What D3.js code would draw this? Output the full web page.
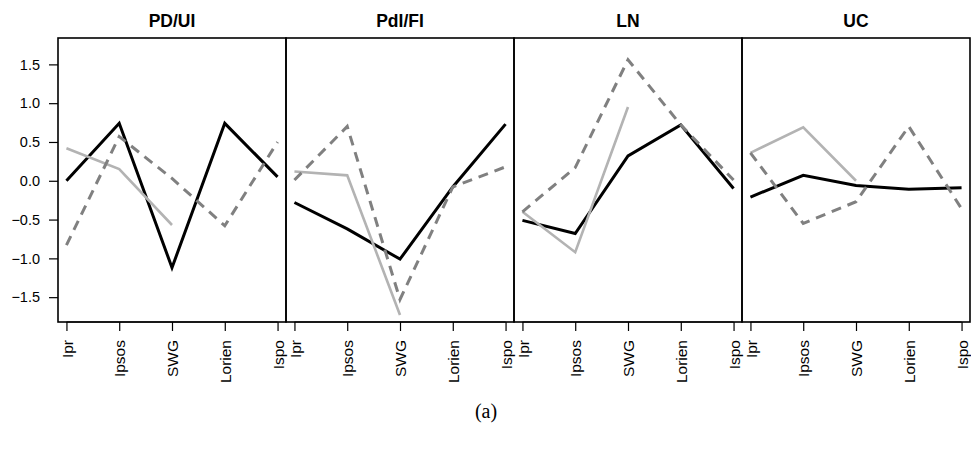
<!DOCTYPE html>
<html>
<head>
<meta charset="utf-8">
<script src="https://cdn.jsdelivr.net/npm/d3@7"></script>
<style>
  body { margin: 0; background: #fff; }
  svg { display: block; }
  text { font-family: "Liberation Sans", Arial, Helvetica, sans-serif; fill: #000; }
</style>
</head>
<body>
<svg id="chart" width="971" height="451"></svg>
<script>
const pollsters = ['Ipr', 'Ipsos', 'SWG', 'Lorien', 'Ispo'];
const parties = ['PD/UI', 'PdI/FI', 'LN', 'UC'];
const yTicks = [-1.5, -1.0, -0.5, 0.0, 0.5, 1.0, 1.5];

// solid black series, one row per party
const blackVals = [
  [0.00, 0.74, -1.12, 0.74, 0.05],
  [-0.28, -0.62, -1.01, -0.08, 0.73],
  [-0.51, -0.68, 0.32, 0.72, -0.10],
  [-0.21, 0.07, -0.06, -0.11, -0.09]
];
// light grey series, only the first three pollsters
const greyVals = [
  [0.42, 0.15, -0.57],
  [0.12, 0.07, -1.73],
  [-0.40, -0.92, 0.95],
  [0.36, 0.69, 0.00]
];
// dashed grey series
const dashVals = [
  [-0.83, 0.57, 0.03, -0.58, 0.50],
  [0.01, 0.70, -1.53, -0.08, 0.18],
  [-0.40, 0.17, 1.56, 0.72, 0.01],
  [0.36, -0.55, -0.27, 0.70, -0.36]
];

const svg = d3.select('#chart');
const plotTop = 38, plotBottom = 322, left0 = 58, panelW = 228;

const y = d3.scaleLinear().domain([-1.82, 1.84]).range([plotBottom, plotTop]);

// left axis (first panel only)
svg.append('g')
  .attr('transform', `translate(${left0},0)`)
  .call(d3.axisLeft(y).tickValues(yTicks).tickFormat(d3.format('.1f')).tickSize(9).tickPadding(9))
  .call((g) => g.select('.domain').remove())
  .call((g) => g.selectAll('line').attr('stroke', '#000').attr('stroke-width', 1.2))
  .call((g) => g.selectAll('text').attr('font-size', 14.5).attr('font-family', null));

parties.forEach((party, i) => {
  const x0 = left0 + i * panelW;
  const x = d3.scaleLinear().domain([1 - 0.16, 5 + 0.16]).range([x0, x0 + panelW]);
  const g = svg.append('g');

  // x axis with rotated labels
  const ax = g.append('g')
    .attr('transform', `translate(0,${plotBottom})`)
    .call(d3.axisBottom(x).tickValues([1, 2, 3, 4, 5]).tickFormat((d) => pollsters[d - 1]).tickSize(9).tickSizeOuter(0));
  ax.select('.domain').remove();
  ax.selectAll('line').attr('stroke', '#000').attr('stroke-width', 1.2);
  ax.selectAll('text')
    .attr('font-size', 15.5)
    .attr('font-family', null)
    .attr('text-anchor', 'end')
    .attr('transform', 'rotate(-90)')
    .attr('x', -18)
    .attr('y', 0)
    .attr('dy', '0.36em');
  g.append('line')
    .attr('x1', x(1)).attr('x2', x(5))
    .attr('y1', plotBottom).attr('y2', plotBottom)
    .attr('stroke', '#000').attr('stroke-width', 1.2);

  const line = d3.line().x((d, j) => x(j + 1)).y((d) => y(d));

  g.append('path')
    .datum(blackVals[i])
    .attr('d', line)
    .attr('fill', 'none')
    .attr('stroke', '#000')
    .attr('stroke-width', 3);

  g.append('path')
    .datum(greyVals[i])
    .attr('d', line)
    .attr('fill', 'none')
    .attr('stroke', '#b3b3b3')
    .attr('stroke-width', 2.6);

  g.append('path')
    .datum(dashVals[i])
    .attr('d', line)
    .attr('fill', 'none')
    .attr('stroke', '#808080')
    .attr('stroke-width', 3)
    .attr('stroke-dasharray', '10,7');

  // panel box
  g.append('rect')
    .attr('x', x0).attr('y', plotTop)
    .attr('width', panelW).attr('height', plotBottom - plotTop)
    .attr('fill', 'none')
    .attr('stroke', '#000')
    .attr('stroke-width', 1.6);

  g.append('text')
    .attr('x', x0 + panelW / 2)
    .attr('y', 27)
    .attr('text-anchor', 'middle')
    .attr('font-size', 17.5)
    .attr('font-weight', 'bold')
    .text(party);
});

svg.append('text')
  .attr('x', 486)
  .attr('y', 418)
  .attr('text-anchor', 'middle')
  .attr('font-size', 20)
  .style('font-family', '"Liberation Serif", "Times New Roman", serif')
  .text('(a)');
</script>
</body>
</html>
